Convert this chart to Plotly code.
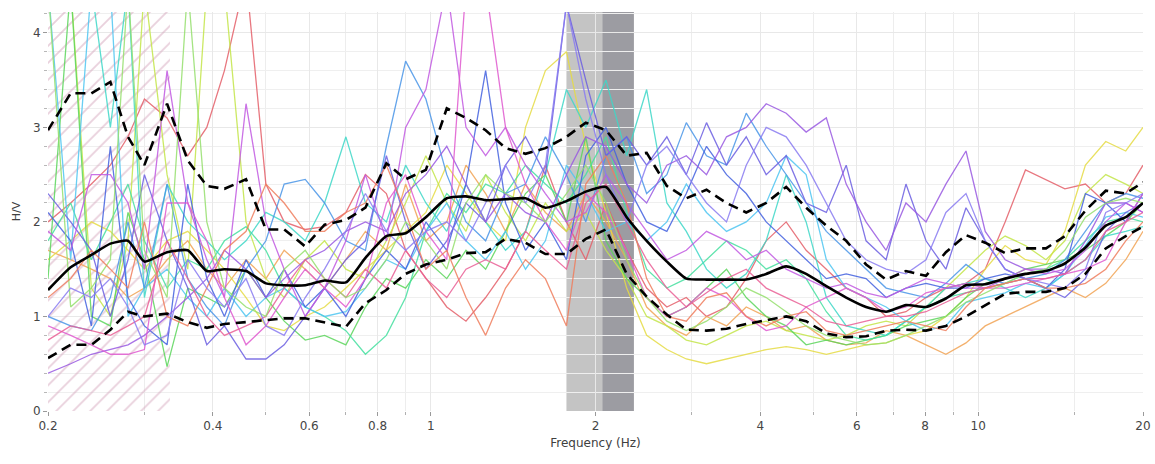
import plotly.graph_objects as go

# ---------------- data ----------------
freq = [0.2, 0.22, 0.24, 0.26, 0.28, 0.3, 0.33, 0.36,
        0.39, 0.42, 0.46, 0.5, 0.54, 0.59, 0.64, 0.7,
        0.76, 0.83, 0.9, 0.98, 1.07, 1.16, 1.26, 1.37,
        1.49, 1.62, 1.77, 1.92, 2.09, 2.28, 2.48, 2.7,
        2.93, 3.19, 3.47, 3.77, 4.1, 4.46, 4.85, 5.28,
        5.74, 6.24, 6.79, 7.38, 8.03, 8.73, 9.5, 10.3,
        11.2, 12.2, 13.3, 14.4, 15.7, 17.1, 18.6, 20]

hv_mean = [1.28, 1.52, 1.65, 1.77, 1.80, 1.58, 1.68, 1.70,
           1.48, 1.50, 1.48, 1.35, 1.33, 1.33, 1.38, 1.36,
           1.62, 1.85, 1.88, 2.05, 2.25, 2.27, 2.23, 2.24,
           2.25, 2.15, 2.22, 2.32, 2.37, 2.05, 1.80, 1.58,
           1.40, 1.39, 1.39, 1.39, 1.45, 1.53, 1.45, 1.32,
           1.20, 1.10, 1.05, 1.12, 1.10, 1.19, 1.33, 1.34,
           1.40, 1.45, 1.48, 1.56, 1.73, 1.96, 2.05, 2.20]

hv_upper = [2.97, 3.36, 3.36, 3.48, 2.90, 2.60, 3.25, 2.65,
            2.38, 2.35, 2.45, 1.92, 1.92, 1.74, 1.97, 2.02,
            2.15, 2.62, 2.45, 2.55, 3.20, 3.10, 2.97, 2.78,
            2.72, 2.78, 2.90, 3.05, 2.97, 2.70, 2.73, 2.38,
            2.25, 2.34, 2.20, 2.10, 2.20, 2.37, 2.15, 1.96,
            1.80, 1.55, 1.39, 1.48, 1.43, 1.68, 1.86, 1.78,
            1.67, 1.72, 1.72, 1.85, 2.12, 2.33, 2.30, 2.42]

hv_lower = [0.56, 0.70, 0.70, 0.86, 1.05, 1.00, 1.03, 0.94,
            0.88, 0.92, 0.94, 0.96, 0.98, 0.98, 0.94, 0.89,
            1.14, 1.28, 1.45, 1.55, 1.60, 1.67, 1.68, 1.82,
            1.78, 1.66, 1.66, 1.82, 1.92, 1.45, 1.21, 1.02,
            0.86, 0.85, 0.87, 0.92, 0.96, 1.00, 0.95, 0.82,
            0.78, 0.79, 0.85, 0.86, 0.85, 0.90, 1.00, 1.12,
            1.24, 1.26, 1.26, 1.30, 1.45, 1.72, 1.85, 1.95]

win_red = [2.0, 2.2, 2.4, 2.6, 2.9, 3.3, 3.1, 2.7,
           3.0, 3.6, 4.6, 2.4, 2.0, 1.92, 1.95, 2.1,
           2.5, 2.3, 1.7, 1.4, 1.1, 0.95, 1.2, 1.5,
           1.9, 2.6, 2.0, 1.6, 2.2, 1.7, 1.3, 1.1,
           1.2, 1.0, 1.1, 1.4, 1.8, 2.0, 1.7, 1.5,
           1.3, 1.2, 1.0, 1.05, 1.2, 1.3, 1.35, 1.5,
           2.0, 2.55, 2.45, 2.35, 2.4, 2.2, 2.3, 2.6]
win_orange = [1.7, 1.6, 1.5, 1.4, 1.2, 1.3, 1.6, 1.8,
              1.5, 1.3, 1.6, 1.4, 1.7, 1.5, 1.3, 1.6,
              1.9, 1.7, 2.4, 1.8, 2.0, 2.6, 2.3, 1.9,
              2.4, 2.1, 1.9, 2.3, 2.0, 1.6, 1.1, 0.9,
              0.8, 1.0, 0.9, 1.1, 1.0, 0.85, 0.9, 0.75,
              0.7, 0.72, 0.85, 0.8, 0.7, 0.6, 0.72, 0.9,
              1.0, 1.1, 1.2, 1.3, 1.2, 1.35, 1.6, 1.9]
win_yellow = [1.6, 1.8, 2.0, 1.9, 1.7, 1.5, 1.8, 1.9,
              1.7, 1.5, 1.2, 0.9, 0.85, 1.0, 1.1, 1.3,
              1.5, 1.7, 1.9, 2.1, 2.6, 2.3, 2.0, 1.8,
              3.0, 3.6, 3.8, 2.8, 2.1, 1.3, 0.8, 0.65,
              0.55, 0.5, 0.55, 0.6, 0.65, 0.68, 0.65, 0.6,
              0.65, 0.7, 0.72, 0.8, 0.85, 1.0, 1.2, 1.5,
              1.75, 1.6, 1.55, 1.9, 2.6, 2.85, 2.75, 3.0]
win_lime = [4.5, 4.5, 1.3, 1.0, 1.8, 4.5, 2.5, 1.5,
            4.5, 4.5, 2.0, 1.4, 1.2, 1.6, 1.8, 1.5,
            1.4, 1.8, 2.2, 2.7, 2.2, 1.9, 2.5, 2.1,
            1.8, 2.2, 1.9, 2.1, 1.7, 1.4, 1.0, 0.9,
            0.75, 0.7, 0.8, 0.9, 0.95, 0.85, 0.8, 0.75,
            0.8, 0.9, 0.95, 0.9, 1.1, 1.3, 1.5, 1.7,
            1.85, 1.75, 1.6, 1.8, 2.3, 2.5, 2.4, 2.3]
win_green = [1.4, 4.5, 1.0, 0.9, 2.1, 1.6, 0.47, 1.3,
             1.2, 1.1, 1.5, 1.2, 0.95, 0.75, 0.8, 0.7,
             1.1, 1.4, 1.3, 1.6, 1.4, 1.7, 1.5, 1.9,
             2.3, 2.5, 2.0, 2.9, 1.8, 1.4, 1.2, 1.0,
             1.1, 1.3, 1.5, 1.2, 1.0, 0.9, 0.7, 0.75,
             0.7, 0.75, 0.8, 0.9, 0.95, 1.0, 1.2, 1.35,
             1.4, 1.5, 1.55, 1.6, 1.7, 1.85, 2.0, 2.2]
win_spring = [1.8, 2.2, 1.6, 2.0, 2.4, 1.8, 1.3, 1.6,
              1.5, 1.8, 1.95, 1.7, 1.3, 1.1, 1.0, 0.85,
              0.6, 0.8, 1.2, 1.9, 2.3, 2.1, 2.4, 2.3,
              2.6, 2.4, 2.2, 2.5, 2.9, 2.1, 1.5, 1.3,
              1.4, 1.6, 1.8, 1.7, 1.5, 1.6, 1.4, 1.05,
              0.8, 0.75, 0.8, 0.95, 1.1, 1.2, 1.25, 1.3,
              1.35, 1.45, 1.5, 1.6, 1.8, 2.0, 2.05, 2.0]
win_turquoise = [4.5, 4.5, 4.5, 3.0, 4.5, 1.2, 2.4, 2.0,
                 1.8, 1.6, 1.8, 2.1, 2.0, 1.8, 2.2, 2.9,
                 2.2, 2.0, 2.6, 2.2, 1.9, 2.4, 2.0, 1.7,
                 1.9, 2.5, 3.4, 3.0, 3.5, 2.7, 3.4, 2.2,
                 1.9, 1.5, 1.3, 1.45, 1.8, 2.5, 2.0, 1.2,
                 0.9, 0.85, 0.8, 0.95, 1.1, 1.3, 1.35, 1.4,
                 1.3, 1.2, 1.3, 1.45, 1.6, 1.85, 1.9, 1.95]
win_cyan = [4.5, 1.6, 4.5, 4.5, 1.0, 1.3, 1.5, 1.2,
            1.0, 1.3, 1.0, 1.2, 1.3, 1.1, 1.0, 1.05,
            1.3, 1.6, 1.5, 1.9, 2.2, 1.8, 1.6, 1.9,
            1.5, 1.8, 2.6, 2.3, 1.9, 2.0, 1.8, 2.0,
            2.4, 2.1, 1.9, 2.0, 2.2, 2.7, 2.5, 1.6,
            1.3, 1.2, 1.1, 0.95, 0.85, 0.9, 1.15, 1.2,
            1.25, 1.35, 1.3, 1.45, 1.75, 2.05, 2.1, 2.05]
win_sky = [1.0, 0.9, 0.85, 1.2, 2.0, 1.3, 2.4, 1.4,
           1.1, 0.9, 1.5, 1.8, 2.4, 2.45, 2.2, 1.8,
           1.7, 2.8, 3.7, 3.3, 2.5, 2.0, 1.8, 2.3,
           2.4, 2.9, 2.5, 2.0, 2.7, 2.9, 2.3, 2.5,
           3.05, 2.7, 2.6, 3.15, 2.8, 2.5, 2.2, 1.9,
           1.7, 1.5, 1.3, 1.25, 1.2, 1.35, 1.55, 1.4,
           1.35, 1.4, 1.45, 1.6, 1.9, 2.2, 2.3, 2.25]
win_blue = [2.1, 1.8, 0.9, 2.8, 1.2, 0.9, 0.7, 2.4,
            1.4, 1.0, 1.6, 1.2, 1.5, 1.1, 1.3, 1.0,
            1.4, 1.7, 1.5, 2.0, 1.7, 2.4, 3.6, 2.2,
            1.7, 2.0, 1.6, 2.7, 3.0, 2.4, 2.0, 1.9,
            2.3, 2.8, 2.5, 2.3, 2.0, 1.8, 1.6, 1.4,
            1.45, 1.4, 1.2, 1.3, 1.35, 1.3, 1.3, 1.4,
            1.45, 1.4, 1.3, 1.5, 2.3, 2.2, 2.0, 2.3]
win_indigo = [2.3, 2.0, 1.7, 1.0, 1.6, 2.5, 1.8, 1.3,
              0.7, 0.9, 0.55, 0.55, 0.7, 1.0, 1.3, 1.6,
              1.8, 2.7, 2.0, 1.5, 1.8, 2.2, 2.0, 2.6,
              2.9, 2.5, 4.3, 3.5, 2.7, 2.9, 2.6, 2.9,
              2.5, 3.05, 2.6, 2.9, 2.5, 2.7, 2.2, 2.1,
              2.6, 1.8, 1.6, 2.4, 1.8, 1.5, 2.15, 1.8,
              1.5, 1.4, 1.3, 1.2, 1.4, 1.9, 2.1, 2.2]
win_purple = [0.4, 0.5, 0.6, 0.65, 0.7, 0.8, 1.0, 1.2,
              1.4, 1.7, 1.5, 1.2, 1.4, 1.6, 1.7, 1.9,
              2.0, 1.9, 2.3, 2.5, 2.8, 2.4, 2.0, 2.3,
              2.1, 2.0, 2.5, 2.9, 2.8, 2.4, 2.2, 2.6,
              2.7, 2.5, 2.9, 3.0, 3.25, 3.15, 2.95, 3.1,
              2.4, 2.0, 1.7, 2.2, 2.0, 2.4, 2.75, 1.9,
              1.6, 1.5, 1.5, 1.45, 1.8, 2.2, 2.2, 2.1]
win_violet = [1.9, 1.7, 2.5, 2.5, 2.2, 1.5, 3.6, 2.2,
              1.6, 1.2, 3.25, 2.0, 1.5, 1.0, 1.3, 1.8,
              2.5, 1.8, 3.0, 3.4, 4.5, 3.0, 2.7, 3.0,
              2.6, 2.3, 2.0, 2.1, 2.5, 2.2, 1.9, 1.6,
              1.7, 1.9, 1.8, 1.6, 1.7, 1.5, 1.4, 1.3,
              1.35, 1.25, 1.2, 1.3, 1.4, 1.35, 1.3, 1.3,
              1.4, 1.5, 1.45, 1.5, 1.7, 2.0, 2.2, 2.1]
win_magenta = [0.9, 0.8, 0.7, 0.6, 0.6, 0.65, 2.2, 2.2,
               1.8, 1.2, 0.7, 0.9, 1.2, 1.5, 1.3, 1.1,
               1.4, 2.2, 2.5, 1.9, 1.6, 4.5, 4.5, 3.0,
               2.4, 2.0, 1.7, 2.3, 2.1, 1.7, 1.2, 1.0,
               1.1, 1.3, 1.2, 1.0, 0.85, 0.9, 1.1, 1.2,
               1.3, 1.2, 1.05, 1.1, 1.25, 1.3, 1.35, 1.3,
               1.3, 1.35, 1.4, 1.45, 1.5, 1.6, 2.0, 2.3]
win_pink = [0.75, 0.9, 0.85, 0.8, 0.9, 1.0, 1.8, 1.4,
            1.0, 0.8, 0.9, 1.0, 1.3, 1.6, 1.4, 1.2,
            1.5, 1.3, 1.7, 1.4, 1.2, 1.5, 1.6, 1.5,
            1.9, 1.7, 1.5, 2.2, 2.4, 2.0, 1.6, 1.3,
            1.1, 1.25, 1.4, 1.5, 1.3, 1.2, 1.1, 0.95,
            0.9, 0.95, 1.0, 1.0, 1.05, 1.15, 1.25, 1.3,
            1.35, 1.4, 1.4, 1.45, 1.6, 1.9, 2.0, 2.1]
win_lightgreen = [4.5, 1.1, 1.3, 1.6, 4.5, 1.7, 1.2, 4.5,
                  2.0, 1.3, 1.1, 1.0, 1.5, 1.7, 1.4, 1.2,
                  1.3, 1.6, 2.0, 1.8, 1.5, 2.2, 2.5, 2.3,
                  2.2, 2.0, 2.3, 2.6, 2.2, 1.6, 1.2, 0.95,
                  0.85, 0.95, 1.1, 1.3, 1.2, 1.05, 0.9, 0.8,
                  0.75, 0.7, 0.72, 0.8, 0.9, 1.0, 1.15, 1.25,
                  1.35, 1.45, 1.5, 1.7, 2.05, 2.2, 2.25, 2.2]
win_coral = [1.2, 1.4, 1.7, 1.5, 1.3, 2.0, 1.0, 0.9,
             1.3, 1.7, 1.9, 2.4, 2.2, 1.9, 1.9, 2.1,
             2.2, 2.6, 2.1, 1.5, 1.7, 1.2, 0.8, 1.3,
             1.6, 1.4, 0.9, 2.4, 2.7, 2.2, 1.4, 1.0,
             0.95, 1.2, 1.25, 1.0, 0.9, 1.0, 1.05, 0.85,
             0.8, 0.85, 0.9, 0.95, 0.9, 0.85, 1.1, 1.3,
             1.35, 1.4, 1.3, 1.3, 1.35, 1.5, 1.8, 2.0]
win_lavender = [1.0, 1.3, 1.2, 1.4, 1.1, 0.7, 0.8, 1.6,
                1.3, 1.1, 1.4, 0.9, 0.8, 1.2, 1.5, 1.9,
                2.3, 1.9, 1.7, 1.9, 2.0, 1.8, 2.2, 2.6,
                2.2, 2.6, 4.3, 3.3, 2.5, 2.0, 2.6, 2.8,
                2.5, 2.2, 2.0, 2.6, 3.0, 2.9, 2.6, 2.2,
                1.8, 1.6, 1.5, 1.45, 1.6, 2.1, 2.3, 1.8,
                1.5, 1.4, 1.35, 1.3, 1.5, 2.1, 2.2, 2.3]

windows = [win_red, win_orange, win_yellow, win_lime, win_green, win_spring,
           win_turquoise, win_cyan, win_sky, win_blue, win_indigo, win_purple,
           win_violet, win_magenta, win_pink, win_lightgreen, win_coral, win_lavender]
window_colors = ["#e5606a", "#f2a455", "#e6dc45", "#c4e64a", "#5cd65c", "#45e0a0",
                 "#3fd8c8", "#4fc6f2", "#4a96e8", "#4462e0", "#6c5fe2", "#9a5ae2",
                 "#c25ae2", "#e05ad0", "#ea6096", "#96e06e", "#f07e5e", "#8a7cf2"]

peak_band_lo = [1.77, 2.06]     # light band: f0 - std
peak_band_hi = [2.06, 2.35]     # dark band: f0 + std
hatch_limit = [0.2, 0.334]      # unreliable low-frequency limit

x_ticks = [0.2, 0.4, 0.6, 0.8, 1, 2, 4, 6, 8, 10, 20]
x_tick_text = ["0.2", "0.4", "0.6", "0.8", "1", "2", "4", "6", "8", "10", "20"]
x_minor = [0.3, 0.5, 0.7, 0.9, 3, 5, 7, 9, 15]
y_ticks = [0, 1, 2, 3, 4]

# ---------------- figure ----------------
fig = go.Figure()

# hatched low-frequency zone
fig.add_trace(go.Scatter(
    x=[hatch_limit[0], hatch_limit[1], hatch_limit[1], hatch_limit[0], hatch_limit[0]],
    y=[0, 0, 4.3, 4.3, 0],
    fill="toself", mode="lines", line=dict(width=0),
    fillcolor="rgba(0,0,0,0)",
    fillpattern=dict(shape="/", fgcolor="#d3a2b9", bgcolor="rgba(255,255,255,0)",
                     size=12, solidity=0.15),
    hoverinfo="skip", showlegend=False))

for vals, col in zip(windows, window_colors):
    fig.add_trace(go.Scatter(x=freq, y=vals, mode="lines",
                             line=dict(color=col, width=1.3),
                             opacity=0.85, showlegend=False))

for vals in (hv_upper, hv_lower):
    fig.add_trace(go.Scatter(x=freq, y=vals, mode="lines",
                             line=dict(color="black", width=2.6, dash="10px,6px"),
                             showlegend=False))
fig.add_trace(go.Scatter(x=freq, y=hv_mean, mode="lines",
                         line=dict(color="black", width=2.6, shape="spline", smoothing=0.5),
                         showlegend=False))

# light band drawn across the whole peak zone, dark band on top (no seam between them)
fig.add_shape(type="rect", xref="x", yref="paper",
              x0=peak_band_lo[0], x1=peak_band_hi[1], y0=0, y1=1,
              fillcolor="#c4c4c4", line=dict(width=0), layer="between")
fig.add_shape(type="rect", xref="x", yref="paper",
              x0=peak_band_hi[0], x1=peak_band_hi[1], y0=0, y1=1,
              fillcolor="#9c9ca2", line=dict(width=0), layer="between")

tick_font = dict(family="DejaVu Sans", size=12, color="#454545")
fig.update_xaxes(
    type="log", range=[-0.69897, 1.30103],
    tickvals=x_ticks, ticktext=x_tick_text, tickfont=tick_font,
    ticks="outside", ticklen=4, tickcolor="#9a9a9a",
    showgrid=True, gridcolor="#e8e8e8", gridwidth=1,
    minor=dict(tickvals=x_minor, showgrid=True, gridcolor="#ededed",
               ticks="outside", ticklen=3, tickcolor="#b0b0b0"),
    showline=False, zeroline=False, ticklabeloverflow="allow",
    title=dict(text="Frequency (Hz)", font=dict(family="DejaVu Sans", size=12, color="#404040"),
               standoff=6),
)
fig.update_yaxes(
    range=[0, 4.22], tickvals=y_ticks, tickfont=tick_font,
    ticks="outside", ticklen=4, tickcolor="#9a9a9a",
    showgrid=True, gridcolor="#e8e8e8",
    minor=dict(dtick=0.2, showgrid=True, gridcolor="#efefef",
               ticks="outside", ticklen=3, tickcolor="#b8b8b8"),
    showline=False, zeroline=False,
    title=dict(text="H/V", font=dict(family="DejaVu Sans", size=11, color="#404040"),
               standoff=10),
)
fig.update_layout(
    width=1155, height=464,
    margin=dict(l=48, r=12, t=12, b=53, autoexpand=False),
    plot_bgcolor="white", paper_bgcolor="white",
    showlegend=False,
)
# remove the default 8px page margin so the figure fills the window exactly
fig.write_html("out.html",
               config={"displayModeBar": False},
               post_script="document.body.style.margin='0';"
                           "document.body.style.overflow='hidden';")
